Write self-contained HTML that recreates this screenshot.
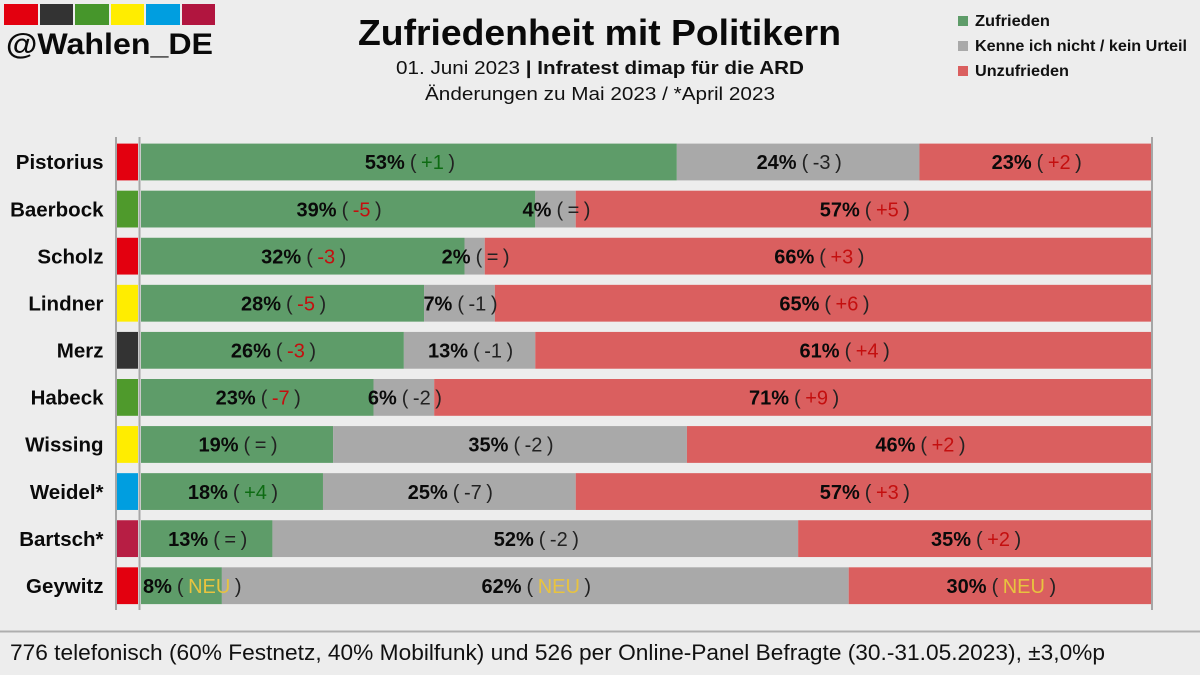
<!DOCTYPE html>
<html lang="de">
<head>
<meta charset="utf-8">
<title>Zufriedenheit mit Politikern</title>
<style>
html,body{margin:0;padding:0;background:#ededed;width:1200px;height:675px;overflow:hidden}
svg{display:block;font-family:"Liberation Sans",sans-serif}
</style>
</head>
<body>
<svg id="chart" xmlns="http://www.w3.org/2000/svg" width="1200" height="675" viewBox="0 0 1200 675">
  <rect width="1200" height="675" fill="#ededed"/>
  <g>
    <rect x="4" y="4" width="34" height="21" fill="#e3000f"/>
    <rect x="40" y="4" width="33" height="21" fill="#333333"/>
    <rect x="75" y="4" width="34" height="21" fill="#46962b"/>
    <rect x="111" y="4" width="33" height="21" fill="#ffed00"/>
    <rect x="146" y="4" width="34" height="21" fill="#009ee0"/>
    <rect x="182" y="4" width="33" height="21" fill="#b1153f"/>
    <text x="6" y="54" font-size="30" font-weight="700" fill="#0a0a0a" textLength="207" lengthAdjust="spacingAndGlyphs">@Wahlen_DE</text>
  </g>
  <text x="358" y="45" font-size="36" font-weight="700" fill="#0a0a0a" textLength="483" lengthAdjust="spacingAndGlyphs">Zufriedenheit mit Politikern</text>
  <text x="396" y="74" font-size="18.5" fill="#111" textLength="408" lengthAdjust="spacingAndGlyphs">01. Juni 2023 <tspan font-weight="700">| Infratest dimap für die ARD</tspan></text>
  <text x="425" y="100" font-size="18.5" fill="#111" textLength="350" lengthAdjust="spacingAndGlyphs">Änderungen zu Mai 2023 / *April 2023</text>
  <g>
    <rect x="958" y="16" width="10" height="10" fill="#5e9c69"/>
    <text x="975" y="26" font-size="15.5" font-weight="700" fill="#111" textLength="75" lengthAdjust="spacingAndGlyphs">Zufrieden</text>
    <rect x="958" y="41" width="10" height="10" fill="#a9a9a9"/>
    <text x="975" y="51" font-size="15.5" font-weight="700" fill="#111" textLength="212" lengthAdjust="spacingAndGlyphs">Kenne ich nicht / kein Urteil</text>
    <rect x="958" y="66" width="10" height="10" fill="#da5f5f"/>
    <text x="975" y="76" font-size="15.5" font-weight="700" fill="#111" textLength="94" lengthAdjust="spacingAndGlyphs">Unzufrieden</text>
  </g>
  <g id="plot"></g>
  <line x1="0" x2="1200" y1="631.5" y2="631.5" stroke="#aeaeae" stroke-width="2"/>
  <text x="10" y="660" font-size="22" fill="#111" textLength="1095" lengthAdjust="spacingAndGlyphs">776 telefonisch (60% Festnetz, 40% Mobilfunk) und 526 per Online-Panel Befragte (30.-31.05.2023), ±3,0%p</text>
</svg>
<script>
const politicians = ["Pistorius","Baerbock","Scholz","Lindner","Merz","Habeck","Wissing","Weidel*","Bartsch*","Geywitz"];
const parties = ["SPD","Gruene","SPD","FDP","CDU","Gruene","FDP","AfD","Linke","SPD"];
const zufrieden = [53,39,32,28,26,23,19,18,13,8];
const keinUrteil = [24,4,2,7,13,6,35,25,52,62];
const unzufrieden = [23,57,66,65,61,71,46,57,35,30];
const changeZufrieden = ["+1","-5","-3","-5","-3","-7","=","+4","=","NEU"];
const changeKeinUrteil = ["-3","=","=","-1","-1","-2","-2","-7","-2","NEU"];
const changeUnzufrieden = ["+2","+5","+3","+6","+4","+9","+2","+3","+2","NEU"];

const partyColor = {SPD:"#e3000f",Gruene:"#4f9a2c",FDP:"#ffed00",CDU:"#333333",AfD:"#009ee0",Linke:"#b71e44"};
const NS = "http://www.w3.org/2000/svg";
const plot = document.getElementById("plot");
const xScale = v => 141 + v * 10.11;
const yScale = i => 143.6 + i * 47.08;
const BAR_H = 36.8;

function make(tag, attrs, parent) {
  const el = document.createElementNS(NS, tag);
  for (const k in attrs) el.setAttribute(k, attrs[k]);
  parent.appendChild(el);
  return el;
}
function changeColor(kind, change) {
  if (change === "NEU") return "#e8c33f";
  if (change === "=" || kind === "kein-urteil") return "#222222";
  const up = change[0] === "+";
  if (kind === "zufrieden") return up ? "#0d6b12" : "#c40f0f";
  return up ? "#c40f0f" : "#0d6b12";
}
function segment(kind, fill, start, value, i, group) {
  const x0 = xScale(start), x1 = xScale(start + value);
  const r = make("rect", {x:x0, y:yScale(i), width:x1 - x0, height:BAR_H, fill:fill}, group);
  
  
  return (x0 + x1) / 2;
}
function valueLabel(kind, cx, value, change, i, group) {
  const t = make("text", {x:cx + 1, y:yScale(i) + 25.6, "text-anchor":"middle", "font-size":"20"}, group);
  
  
  const a = make("tspan", {"font-weight":"700", fill:"#0a0a0a"}, t);
  a.textContent = value + "%";
  const b = make("tspan", {dx:"5", fill:"#222222"}, t);
  b.textContent = "(";
  const c = make("tspan", {dx:"4.5", fill:changeColor(kind, change)}, t);
  c.textContent = change;
  const d = make("tspan", {dx:"4.5", fill:"#222222"}, t);
  d.textContent = ")";
  /* a label wider than its segment stays inside the plot's left edge */
  const half = (t.getComputedTextLength() + 14) / 2;
  const minCentre = xScale(0) + 2 + half;
  if (cx + 1 < minCentre) t.setAttribute("x", minCentre);
}
politicians.forEach((name, i) => {
  const row = make("g", {}, plot);
  
  
  const label = make("text", {x:103.5, y:yScale(i) + 25.6, "text-anchor":"end", "font-size":"20.5", "font-weight":"700", fill:"#0a0a0a"}, row);
  
  
  label.textContent = name;
  const swatch = make("rect", {x:117, y:yScale(i), width:21, height:BAR_H, fill:partyColor[parties[i]]}, row);
  
  
  const a = zufrieden[i], k = keinUrteil[i], u = unzufrieden[i];
  const c1 = segment("zufrieden", "#5e9c69", 0, a, i, row);
  const c2 = segment("kein-urteil", "#a9a9a9", a, k, i, row);
  const c3 = segment("unzufrieden", "#da5f5f", a + k, u, i, row);
  valueLabel("zufrieden", c1, a, changeZufrieden[i], i, row);
  valueLabel("kein-urteil", c2, k, changeKeinUrteil[i], i, row);
  valueLabel("unzufrieden", c3, u, changeUnzufrieden[i], i, row);
});
[["axis-line-left", 116], ["axis-line-inner", 139.5], ["axis-line-right", 1152]].forEach(pair => {
  const l = make("line", {x1:pair[1], x2:pair[1], y1:137, y2:610, stroke:"#a6a6a6", "stroke-width":"2"}, plot);
  
  
});
</script>
</body>
</html>
